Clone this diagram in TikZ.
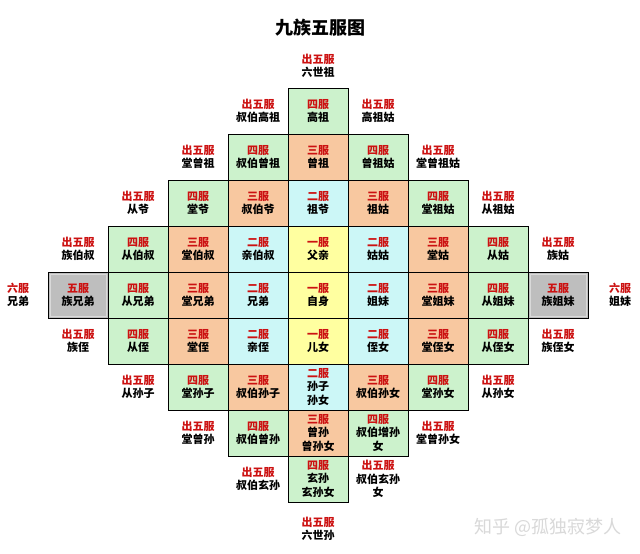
\documentclass[tikz,border=0pt]{standalone}
\usepackage{fontspec}
\setmainfont{Noto Sans CJK SC}
\definecolor{cyel}{HTML}{FFFFA0}
\definecolor{ccyan}{HTML}{CCF7F7}
\definecolor{corange}{HTML}{F8C8A0}
\definecolor{cgreen}{HTML}{CCF2CC}
\definecolor{cgray}{HTML}{BEBEBE}
\definecolor{cred}{HTML}{CC1111}
\newcommand\rt[1]{\textcolor{cred}{#1}}
\newcommand\cellfont{\fontsize{11}{13.5}\selectfont\bfseries}
\begin{document}
\begin{tikzpicture}[x=1pt,y=-1pt,
  cellbox/.style={draw=black,line width=1pt,minimum width=60pt,minimum height=46pt,inner sep=0pt,align=center,font=\cellfont},
  g1/.style={cellbox,fill=cyel},
  g2/.style={cellbox,fill=ccyan},
  g3/.style={cellbox,fill=corange},
  g4/.style={cellbox,fill=cgreen},
  g5/.style={cellbox,fill=cgray},
  lab/.style={align=center,font=\cellfont,inner sep=0pt}]
\useasboundingbox (0,0) rectangle (640,554);
\fill[white] (0,0) rectangle (640,554);
\node[font=\fontsize{18}{20}\selectfont\bfseries] (title) at (320,28) {九族五服图};
% row 0
\node[lab] (top) at (318,66) {\rt{出五服}\\六世祖};
\node[lab] (o03) at (258,111) {\rt{出五服}\\叔伯高祖};
\node[g4] (c04) at (318,111) {\rt{四服}\\高祖};
\node[lab] (o05) at (378,111) {\rt{出五服}\\高祖姑};
% row 1
\node[lab] (o12) at (198,157) {\rt{出五服}\\堂曾祖};
\node[g4] (c13) at (258,157) {\rt{四服}\\叔伯曾祖};
\node[g3] (c14) at (318,157) {\rt{三服}\\曾祖};
\node[g4] (c15) at (378,157) {\rt{四服}\\曾祖姑};
\node[lab] (o16) at (438,157) {\rt{出五服}\\堂曾祖姑};
% row 2
\node[lab] (o21) at (138,203) {\rt{出五服}\\从爷};
\node[g4] (c22) at (198,203) {\rt{四服}\\堂爷};
\node[g3] (c23) at (258,203) {\rt{三服}\\叔伯爷};
\node[g2] (c24) at (318,203) {\rt{二服}\\祖爷};
\node[g3] (c25) at (378,203) {\rt{三服}\\祖姑};
\node[g4] (c26) at (438,203) {\rt{四服}\\堂祖姑};
\node[lab] (o27) at (498,203) {\rt{出五服}\\从祖姑};
% row 3
\node[lab] (o30) at (78,249) {\rt{出五服}\\族伯叔};
\node[g4] (c31) at (138,249) {\rt{四服}\\从伯叔};
\node[g3] (c32) at (198,249) {\rt{三服}\\堂伯叔};
\node[g2] (c33) at (258,249) {\rt{二服}\\亲伯叔};
\node[g1] (c34) at (318,249) {\rt{一服}\\父亲};
\node[g2] (c35) at (378,249) {\rt{二服}\\姑姑};
\node[g3] (c36) at (438,249) {\rt{三服}\\堂姑};
\node[g4] (c37) at (498,249) {\rt{四服}\\从姑};
\node[lab] (o38) at (558,249) {\rt{出五服}\\族姑};
% row 4
\node[lab] (oL) at (18,295) {\rt{六服}\\兄弟};
\node[g5] (c40) at (78,295) {\rt{五服}\\族兄弟};
\node[g4] (c41) at (138,295) {\rt{四服}\\从兄弟};
\node[g3] (c42) at (198,295) {\rt{三服}\\堂兄弟};
\node[g2] (c43) at (258,295) {\rt{二服}\\兄弟};
\node[g1] (c44) at (318,295) {\rt{一服}\\自身};
\node[g2] (c45) at (378,295) {\rt{二服}\\姐妹};
\node[g3] (c46) at (438,295) {\rt{三服}\\堂姐妹};
\node[g4] (c47) at (498,295) {\rt{四服}\\从姐妹};
\node[g5] (c48) at (558,295) {\rt{五服}\\族姐妹};
\node[lab] (oR) at (620,295) {\rt{六服}\\姐妹};
\foreach \n in {c40,c48}
  \draw[white!70!gray,line width=1pt] ([shift={(2.5,2.5)}]\n.north west) rectangle ([shift={(-2.5,-2.5)}]\n.south east);
% row 5
\node[lab] (o50) at (78,341) {\rt{出五服}\\族侄};
\node[g4] (c51) at (138,341) {\rt{四服}\\从侄};
\node[g3] (c52) at (198,341) {\rt{三服}\\堂侄};
\node[g2] (c53) at (258,341) {\rt{二服}\\亲侄};
\node[g1] (c54) at (318,341) {\rt{一服}\\儿女};
\node[g2] (c55) at (378,341) {\rt{二服}\\侄女};
\node[g3] (c56) at (438,341) {\rt{三服}\\堂侄女};
\node[g4] (c57) at (498,341) {\rt{四服}\\从侄女};
\node[lab] (o58) at (558,341) {\rt{出五服}\\族侄女};
% row 6
\node[lab] (o61) at (138,387) {\rt{出五服}\\从孙子};
\node[g4] (c62) at (198,387) {\rt{四服}\\堂孙子};
\node[g3] (c63) at (258,387) {\rt{三服}\\叔伯孙子};
\node[g2] (c64) at (318,387) {\rt{二服}\\孙子\\孙女};
\node[g3] (c65) at (378,387) {\rt{三服}\\叔伯孙女};
\node[g4] (c66) at (438,387) {\rt{四服}\\堂孙女};
\node[lab] (o67) at (498,387) {\rt{出五服}\\从孙女};
% row 7
\node[lab] (o72) at (198,433) {\rt{出五服}\\堂曾孙};
\node[g4] (c73) at (258,433) {\rt{四服}\\叔伯曾孙};
\node[g3] (c74) at (318,433) {\rt{三服}\\曾孙\\曾孙女};
\node[g4] (c75) at (378,433) {\rt{四服}\\叔伯增孙\\女};
\node[lab] (o76) at (438,433) {\rt{出五服}\\堂曾孙女};
% row 8
\node[lab] (o83) at (258,479) {\rt{出五服}\\叔伯玄孙};
\node[g4] (c84) at (318,479) {\rt{四服}\\玄孙\\玄孙女};
\node[lab] (o85) at (378,479) {\rt{出五服}\\叔伯玄孙\\女};
\node[lab] (bot) at (318,529) {\rt{出五服}\\六世孙};
% watermark
\node[font=\fontsize{18}{20}\selectfont,text=gray!30,anchor=west,inner sep=0pt] (wm) at (474,527) {知乎 @孤独寂梦人};
\end{tikzpicture}
\end{document}
